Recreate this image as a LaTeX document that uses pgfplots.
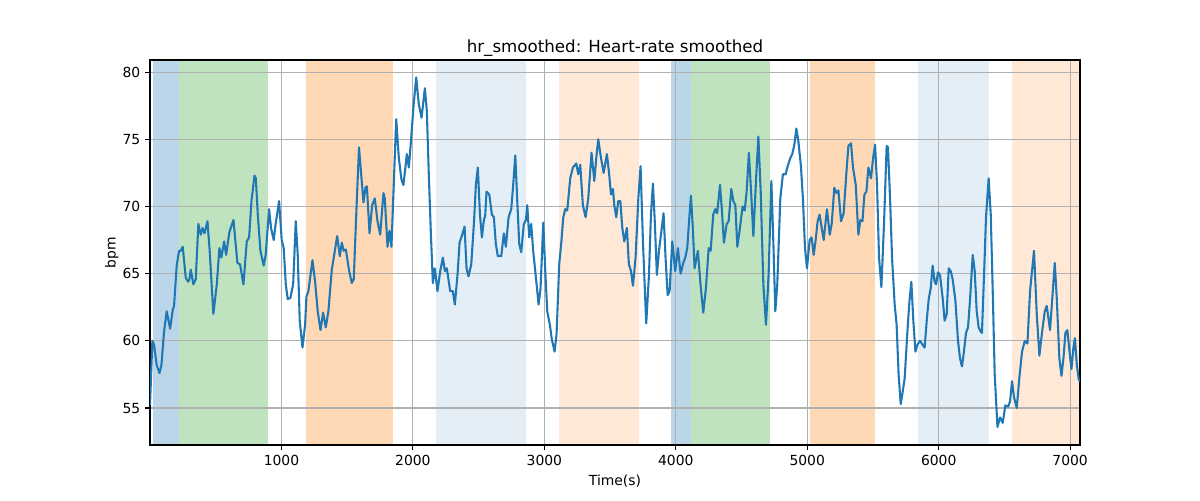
\documentclass[border=0pt]{standalone}
\usepackage{fontspec}
\setmainfont{DejaVu Sans}
\usepackage{pgfplots}
\pgfplotsset{compat=1.18}
\definecolor{tabblue}{HTML}{1F77B4}
\definecolor{taborange}{HTML}{FF7F0E}
\definecolor{tabgreen}{HTML}{2CA02C}
\definecolor{gridgray}{HTML}{B0B0B0}
\begin{document}
\begin{tikzpicture}
\begin{axis}[
  at={(0,0)}, anchor=south west,
  scale only axis, width=669.6pt, height=277.2pt,
  xmin=0, xmax=7075, ymin=52.25, ymax=80.9,
  xtick={1000,2000,3000,4000,5000,6000,7000}, ytick={55,60,65,70,75,80},
  grid=major, grid style={gridgray, line width=0.8pt},
  axis line style={black, line width=0.8pt},
  tick align=outside, major tick length=3.5pt,
  tick style={black, line width=0.8pt},
  tick pos=left,
  set layers=standard,
  /pgf/number format/assume math mode=true,
  /pgf/number format/1000 sep={},
  ticklabel style={font=\fontsize{10}{12}\selectfont},
  title={hr\_smoothed: Heart-rate smoothed},
  title style={font=\fontsize{12}{14}\selectfont, yshift=-7pt},
  xlabel={Time(s)}, ylabel={bpm},
  ylabel shift=-4pt,
  label style={font=\fontsize{10}{12}\selectfont},
]
% spans
\addplot[on layer=axis background, fill=tabblue, fill opacity=0.3, draw=none] coordinates {(26,52.25) (218,52.25) (218,80.9) (26,80.9)} -- cycle;
\addplot[on layer=axis background, fill=tabgreen, fill opacity=0.3, draw=none] coordinates {(218,52.25) (901,52.25) (901,80.9) (218,80.9)} -- cycle;
\addplot[on layer=axis background, fill=taborange, fill opacity=0.3, draw=none] coordinates {(1183,52.25) (1852,52.25) (1852,80.9) (1183,80.9)} -- cycle;
\addplot[on layer=axis background, fill=tabblue, fill opacity=0.12, draw=none] coordinates {(2172,52.25) (2862,52.25) (2862,80.9) (2172,80.9)} -- cycle;
\addplot[on layer=axis background, fill=taborange, fill opacity=0.17, draw=none] coordinates {(3108,52.25) (3722,52.25) (3722,80.9) (3108,80.9)} -- cycle;
\addplot[on layer=axis background, fill=tabblue, fill opacity=0.3, draw=none] coordinates {(3960,52.25) (4113,52.25) (4113,80.9) (3960,80.9)} -- cycle;
\addplot[on layer=axis background, fill=tabgreen, fill opacity=0.3, draw=none] coordinates {(4113,52.25) (4719,52.25) (4719,80.9) (4113,80.9)} -- cycle;
\addplot[on layer=axis background, fill=taborange, fill opacity=0.3, draw=none] coordinates {(5018,52.25) (5518,52.25) (5518,80.9) (5018,80.9)} -- cycle;
\addplot[on layer=axis background, fill=tabblue, fill opacity=0.12, draw=none] coordinates {(5842,52.25) (6380,52.25) (6380,80.9) (5842,80.9)} -- cycle;
\addplot[on layer=axis background, fill=taborange, fill opacity=0.17, draw=none] coordinates {(6555,52.25) (7075,52.25) (7075,80.9) (6555,80.9)} -- cycle;
% line
\addplot[tabblue, line width=1.5pt, line join=round, mark=none] table {
t v
0 55.2
18 60.0
31 59.7
51 58.2
72 57.6
87 58.2
107 60.7
127 62.2
153 60.9
173 62.3
183 62.6
203 65.6
221 66.7
234 66.7
249 67.0
272 64.7
290 64.4
300 64.6
310 65.3
330 64.2
348 64.6
368 68.7
386 67.9
400 68.4
415 68.0
437 68.9
454 66.7
482 62.0
508 64.2
528 66.9
543 66.2
564 67.4
579 66.4
604 68.1
635 69.0
665 65.8
685 65.7
711 64.2
736 67.4
754 67.7
772 70.4
795 72.3
805 72.1
820 69.4
840 66.7
865 65.6
880 66.4
906 69.8
921 68.4
941 67.5
956 68.7
982 70.4
1002 67.5
1017 66.9
1033 64.2
1048 63.1
1068 63.2
1089 64.2
1109 68.9
1124 66.4
1139 61.5
1160 59.5
1180 61.2
1190 63.3
1205 63.7
1236 66.0
1256 64.4
1276 62.2
1297 60.8
1317 62.1
1337 61.0
1357 62.2
1383 65.3
1398 66.2
1424 67.8
1444 66.3
1459 67.3
1474 66.7
1490 66.8
1515 65.2
1535 64.3
1550 64.6
1571 69.9
1590 74.4
1609 72.1
1624 70.3
1639 71.4
1650 71.5
1670 68.0
1690 70.1
1710 70.6
1731 68.9
1751 67.9
1776 71.0
1786 70.6
1807 67.0
1822 68.2
1837 67.0
1858 72.6
1873 76.5
1893 73.6
1913 72.0
1928 71.6
1954 73.9
1969 72.9
1984 74.7
2005 77.5
2025 79.6
2045 77.6
2066 76.6
2091 78.8
2106 77.1
2121 72.4
2137 67.9
2152 64.3
2167 65.4
2187 63.7
2208 65.2
2228 66.2
2243 65.2
2258 65.4
2284 63.7
2304 63.7
2319 62.7
2340 65.0
2355 67.3
2375 67.9
2393 68.5
2408 65.4
2423 64.8
2444 65.7
2464 68.7
2479 71.6
2494 72.9
2510 69.4
2525 67.7
2540 69.0
2550 69.3
2560 71.1
2581 70.9
2601 69.4
2616 69.2
2631 67.2
2646 66.3
2672 66.3
2692 68.0
2707 67.0
2728 69.2
2748 69.8
2763 71.6
2779 73.8
2794 70.4
2809 67.2
2824 66.6
2844 68.7
2860 69.0
2870 70.1
2885 67.7
2900 68.7
2915 66.7
2936 64.7
2956 62.7
2971 63.9
2992 68.8
3007 65.2
3022 62.2
3042 61.2
3057 60.1
3078 59.2
3093 60.5
3113 65.7
3128 67.2
3144 69.2
3159 69.8
3174 69.7
3197 72.1
3217 72.9
3243 73.2
3258 72.4
3273 73.1
3293 70.1
3314 69.2
3334 70.6
3359 74.0
3380 71.9
3395 73.6
3410 75.0
3431 73.6
3451 72.5
3476 73.9
3491 72.6
3507 70.9
3522 71.3
3532 70.1
3547 69.2
3562 70.4
3578 70.4
3593 68.4
3608 67.4
3628 68.4
3643 65.7
3659 65.2
3674 64.1
3694 66.2
3715 70.6
3732 73.0
3750 67.4
3775 61.3
3796 64.9
3811 69.4
3826 71.7
3841 68.7
3856 64.9
3872 66.7
3887 67.9
3907 69.5
3922 66.2
3938 63.4
3953 63.7
3973 67.4
3996 65.2
4016 66.9
4037 65.0
4057 65.8
4072 66.2
4087 66.9
4103 69.2
4115 70.8
4128 68.7
4143 65.4
4168 66.7
4188 64.2
4209 62.1
4229 63.9
4250 66.9
4265 66.7
4285 69.4
4300 69.8
4315 69.5
4336 71.6
4351 69.7
4366 67.3
4387 68.7
4402 68.9
4422 71.3
4438 70.4
4453 70.1
4468 67.0
4488 68.4
4508 70.0
4524 69.7
4539 71.1
4556 74.0
4574 70.9
4590 67.8
4610 71.9
4628 75.2
4646 71.1
4666 64.2
4686 61.2
4706 64.9
4727 71.9
4742 67.4
4757 62.2
4772 64.2
4795 70.6
4815 72.4
4836 72.4
4851 73.0
4871 73.6
4886 73.9
4902 74.6
4917 75.8
4932 74.9
4952 73.0
4967 70.6
4983 66.9
4998 65.4
5018 67.5
5033 67.7
5049 66.4
5064 67.5
5079 68.9
5094 69.4
5110 68.4
5125 67.5
5150 69.8
5171 67.9
5186 68.7
5206 71.4
5222 71.0
5237 71.2
5257 68.9
5277 69.5
5297 72.4
5313 74.5
5333 74.7
5348 72.9
5369 71.6
5389 67.9
5404 69.0
5420 68.9
5435 70.9
5450 71.1
5465 72.9
5485 72.1
5501 73.6
5516 74.6
5531 71.6
5546 66.2
5564 64.0
5584 68.7
5604 74.5
5614 74.4
5630 70.6
5645 66.2
5665 62.7
5680 61.2
5695 57.5
5711 55.3
5726 56.2
5741 57.2
5762 60.7
5777 62.9
5792 64.4
5807 61.5
5823 59.2
5838 59.7
5858 60.0
5878 59.7
5893 59.5
5909 61.5
5924 63.1
5939 63.9
5954 65.6
5969 64.4
5980 64.2
5995 65.1
6010 64.9
6030 63.2
6045 61.5
6061 62.0
6076 65.4
6091 65.2
6106 64.6
6127 63.0
6147 60.0
6162 58.7
6177 58.1
6192 59.2
6208 60.6
6223 61.0
6238 63.0
6259 66.4
6274 65.2
6289 62.2
6304 61.0
6319 60.7
6329 60.6
6345 64.9
6360 69.2
6380 72.1
6396 69.4
6411 63.7
6426 57.5
6447 53.6
6467 54.3
6487 53.9
6507 55.2
6528 55.1
6543 55.5
6558 57.0
6573 55.8
6594 55.0
6614 57.3
6634 59.2
6655 60.0
6675 59.8
6695 63.7
6725 66.7
6746 62.0
6766 58.9
6787 60.7
6807 62.2
6822 62.6
6847 60.8
6868 63.7
6883 65.8
6898 63.2
6918 58.7
6934 57.4
6949 58.7
6964 60.6
6979 60.8
6995 59.2
7010 57.9
7025 59.5
7036 60.2
7051 58.2
7066 57.1
7075 57.0
};
\end{axis}
\path (-108pt,-39.6pt) rectangle (756pt,320.4pt);
\end{tikzpicture}
\end{document}
